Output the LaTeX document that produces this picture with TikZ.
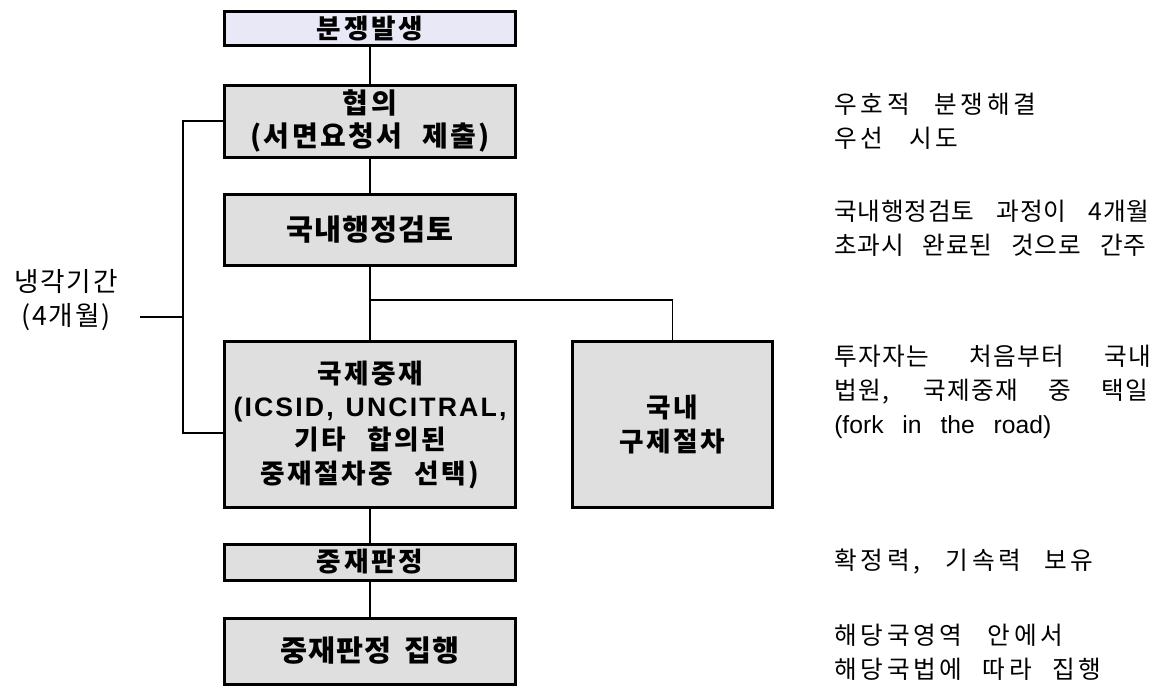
\documentclass[tikz,border=0pt]{standalone}
\usepackage{fontspec}
\newfontfamily\krb{Noto Sans CJK KR}
\newfontfamily\krr{Noto Sans CJK KR}
\newfontfamily\lat{Liberation Sans}
% #1 size, #2 letter space, #3 word space
\newcommand\bxf[3]{\krb\bfseries\addfontfeatures{LetterSpace=#2}\fontsize{#1}{25pt}\selectfont\spaceskip=#3 plus 0.2em}
\newcommand\ntf[1]{\krr\addfontfeatures{LetterSpace=#1}\fontsize{18.5pt}{25.5pt}\selectfont\spaceskip=0.5em plus 3em}
\newcommand\jline[2]{\makebox[#1][s]{#2}}
\definecolor{boxgray}{RGB}{223,223,223}
\definecolor{lav}{RGB}{232,232,246}
\begin{document}
\begin{tikzpicture}[x=0.75pt,y=-0.75pt,
  box/.style={draw=black,line width=2.25pt,fill=boxgray,inner sep=0pt,align=center,minimum width=218pt},
  link/.style={draw=black,line width=0.8pt},
  note/.style={anchor=west,align=left,inner sep=0pt}]
\useasboundingbox (0,0) rectangle (1166,687);
% boxes
\node[box,fill=lav,minimum height=26pt,font={\bxf{20pt}{10}{0.5em}}] (b1) at (370,28.5) {분쟁발생};
\node[box,minimum height=54pt,font={\bxf{21pt}{9}{0.7em}}] (b2) at (370,121) {협의\\(서면요청서 제출)};
\node[box,minimum height=53pt,font={\bxf{22pt}{3}{0.5em}}] (b3) at (370,230) {국내행정검토};
\node[box,minimum height=125pt,font={\bxf{20pt}{9}{0.8em}}] (b4) at (370,424.5) {국제중재\\{\lat\bfseries\addfontfeatures{LetterSpace=8}\spaceskip=0.45em (ICSID, UNCITRAL,}\\기타 합의된\\중재절차중 선택)};
\node[box,minimum width=150pt,minimum height=125pt,font={\bxf{20pt}{9}{0.5em}}] (b5) at (672.5,424.5) {국내\\구제절차};
\node[box,minimum height=27pt,font={\bxf{20pt}{10}{0.5em}}] (b6) at (370,562) {중재판정};
\node[box,minimum height=49.5pt,font={\bxf{22pt}{3}{0.45em}}] (b7) at (370,651) {중재판정 집행};
% connectors
\coordinate (fork) at (370,300);
\draw[link] (b1.south) -- (b2.north);
\draw[link] (b2.south) -- (b3.north);
\draw[link] (b3.south) -- (b4.north);
\draw[link] (fork) -| (b5.north);
\draw[link] (b4.south) -- (b6.north);
\draw[link] (b6.south) -- (b7.north);
% cooling period bracket
\coordinate (bt) at (183,121);
\coordinate (bb) at (183,433);
\draw[link] (b2.west) -- (bt) -- (bb) -- (bb -| b4.west);
\node[align=center,inner sep=0pt,font={\krr\addfontfeatures{LetterSpace=7}\fontsize{20pt}{25.5pt}\selectfont}] (cool) at (66,300) {냉각기간\\(4개월)};
\coordinate (tk) at (140,317);
\draw[link] (tk) -- (tk -| bt);
% notes
\node[note,font={\ntf{15}}] (n1) at (834,121) {\jline{151.5pt}{우호적 분쟁해결}\\\jline{93pt}{우선 시도}};
\node[note,font={\ntf{3}}] (n2) at (834,228) {\jline{236.25pt}{국내행정검토 과정이 4개월}\\\jline{234pt}{초과시 완료된 것으로 간주}};
\node[note,font={\ntf{5}}] (n3) at (834,391.5) {\jline{237.75pt}{투자자는 처음부터 국내}\\\jline{235.5pt}{법원, 국제중재 중 택일}\\{\lat\fontsize{18.5pt}{25.5pt}\selectfont\jline{162.75pt}{(fork in the road)}}};
\node[note,font={\ntf{15}}] (n4) at (834,562) {\jline{194.25pt}{확정력, 기속력 보유}};
\node[note,font={\ntf{15}}] (n5) at (834,652.5) {\jline{171.75pt}{해당국영역 안에서}\\\jline{200.25pt}{해당국법에 따라 집행}};
\end{tikzpicture}
\end{document}
